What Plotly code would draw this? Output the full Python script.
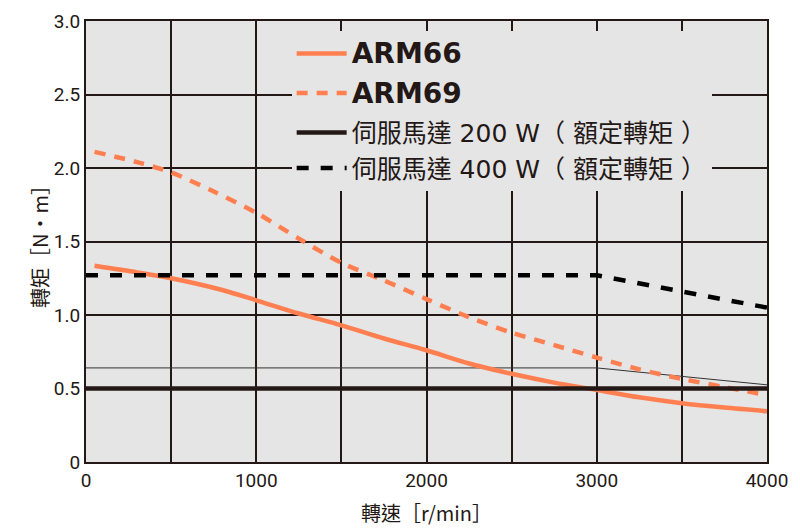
import plotly.graph_objects as go

speed_66 = [50, 300, 500, 800, 1000, 1250, 1500, 1750, 2000, 2250, 2500, 2750, 3000, 3250, 3500, 3750, 4000]
torque_66 = [1.335, 1.29, 1.25, 1.17, 1.10, 1.01, 0.93, 0.84, 0.76, 0.67, 0.60, 0.54, 0.49, 0.44, 0.40, 0.37, 0.345]

speed_69 = [50, 300, 500, 750, 1000, 1250, 1500, 1750, 2000, 2250, 2500, 2750, 3000, 3250, 3500, 3750, 4000]
torque_69 = [2.11, 2.04, 1.97, 1.84, 1.695, 1.52, 1.355, 1.235, 1.108, 0.985, 0.88, 0.795, 0.71, 0.63, 0.565, 0.51, 0.455]

speed_200w = [0, 4000]
torque_200w = [0.5, 0.5]

speed_400w = [0, 3000, 4000]
torque_400w = [1.27, 1.27, 1.05]

speed_ref = [0, 3000, 4000]
torque_ref = [0.64, 0.64, 0.525]

x_ticks = [0, 1000, 2000, 3000, 4000]
x_ticklabels = ["0", "1000", "2000", "3000", "4000"]
y_ticks = [0, 0.5, 1.0, 1.5, 2.0, 2.5, 3.0]
y_ticklabels = ["0", "0.5", "1.0", "1.5", "2.0", "2.5", "3.0"]

ARM_STYLE = "font-family:DejaVu Sans, Noto Sans;font-weight:900;font-size:28px"
names = [f"<span style='{ARM_STYLE}'>ARM66</span>",
         f"<span style='{ARM_STYLE}'>ARM69</span>",
         "伺服馬達 200 W（\u00a0額定轉矩\u00a0）",
         "伺服馬達 400 W（\u00a0額定轉矩\u00a0）"]

ORANGE = "#ff7f50"
DARK = "#231815"
BG = "#e5e5e5"

fig = go.Figure()
fig.add_trace(go.Scatter(x=speed_ref, y=torque_ref, mode="lines",
                         line=dict(color="#333333", width=1), showlegend=False, hoverinfo="skip"))
fig.add_trace(go.Scatter(x=speed_66, y=torque_66, mode="lines", name=names[0], legendgroup="a",
                         line=dict(color=ORANGE, width=4.5, shape="spline", smoothing=0.8)))
fig.add_trace(go.Scatter(x=speed_69, y=torque_69, mode="lines", name=names[1], legendgroup="b",
                         line=dict(color=ORANGE, width=4.5, shape="spline", smoothing=0.8, dash="11px,9px")))
fig.add_trace(go.Scatter(x=speed_200w, y=torque_200w, mode="lines", name=names[2], legendgroup="c",
                         line=dict(color=DARK, width=4.5)))
fig.add_trace(go.Scatter(x=speed_400w, y=torque_400w, mode="lines", name=names[3], legendgroup="c",
                         line=dict(color="#000000", width=4.5, dash="12px,12px")))

tick_font = dict(family="Liberation Sans Narrow, Arial Narrow, Roboto, Arial", size=19, color="#231815")

fig.update_layout(
    width=800, height=532,
    margin=dict(l=86, r=33, t=10, b=70),
    paper_bgcolor="white",
    plot_bgcolor=BG,
    font=dict(family="Noto Sans CJK TC, Noto Sans", color="#231815"),
    legend=dict(
        x=0.302, y=0.978, xanchor="left", yanchor="top",
        bgcolor=BG,
        font=dict(family="DejaVu Sans, Noto Sans CJK TC", size=25, color="#231815"),
        tracegroupgap=4,
        itemwidth=50,
    ),
    xaxis=dict(
        range=[0, 4000], tickvals=x_ticks, ticktext=x_ticklabels,
        showgrid=True, gridcolor=DARK, gridwidth=1.5,
        minor=dict(dtick=500, tick0=0, showgrid=True, gridcolor=DARK, gridwidth=1.5),
        showline=True, linecolor=DARK, linewidth=2, mirror=True,
        zeroline=False, ticks="", tickfont=tick_font,
        title=dict(text="轉速［r/min］", font=dict(size=20, family="Noto Sans CJK TC"), standoff=16),
    ),
    yaxis=dict(
        range=[0, 3.0], tickvals=y_ticks, ticktext=y_ticklabels,
        showgrid=True, gridcolor=DARK, gridwidth=1.5,
        showline=True, linecolor=DARK, linewidth=2, mirror=True,
        zeroline=False, ticks="", tickfont=tick_font,
        title=dict(text="轉矩［N·m］", font=dict(size=20, family="Noto Sans CJK TC"), standoff=0),
    ),
)

fig.write_html("out.html")
